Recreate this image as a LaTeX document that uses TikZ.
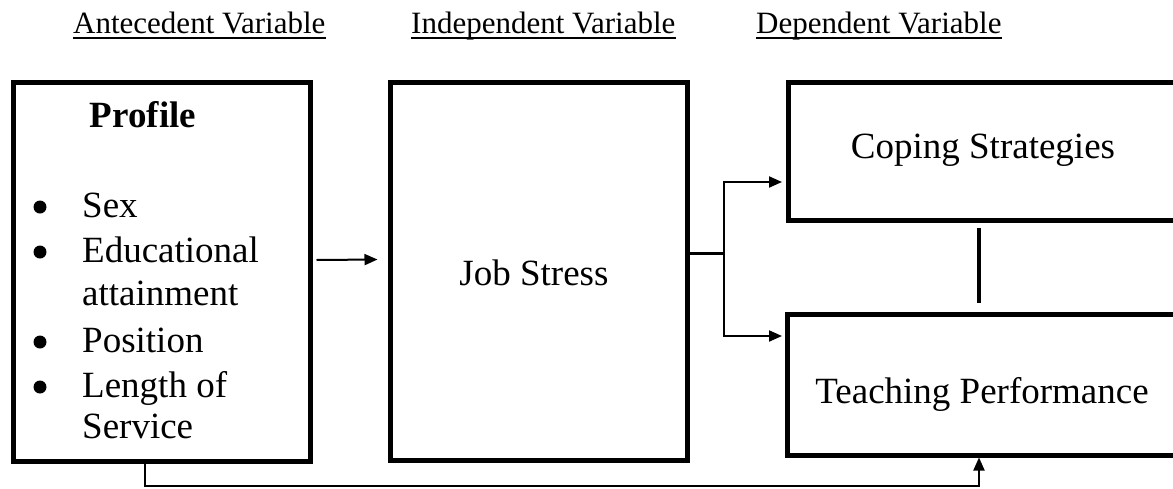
\documentclass[tikz,border=0pt]{standalone}
\usepackage{fontspec}
\setmainfont{Liberation Serif}
\usetikzlibrary{arrows.meta,calc}
\begin{document}
\begin{tikzpicture}[x=1pt,y=-1pt,
  box/.style={draw,line width=5pt,inner sep=0pt},
  body/.style={font=\fontsize{37}{44}\selectfont,inner sep=0pt,anchor=base},
  bodyl/.style={body,anchor=base west},
  bul/.style={circle,fill,inner sep=0pt,minimum size=13pt},
  head/.style={font=\fontsize{31}{36}\selectfont,inner sep=0pt,anchor=base west},
  uline/.style={line width=2pt},
  conn/.style={line width=2pt},
  arr/.style={conn,-{Triangle[length=13pt,width=11pt]}}]
\clip (0,0) rectangle (1173,488);
\useasboundingbox (0,0) rectangle (1173,488);

% headers
\node[head] (h1) at (73,33) {Antecedent Variable};
\node[head] (h2) at (411,33) {Independent Variable};
\node[head] (h3) at (756,33) {Dependent Variable};
\foreach \h in {h1,h2,h3}
  \draw[uline] ($(\h.base west)+(0,5)$) -- ($(\h.base east)+(0,5)$);

% boxes
\node[box,minimum width=297pt,minimum height=379pt] (profile) at (161.5,271.5) {};
\node[box,minimum width=297pt,minimum height=378pt] (job) at (538.5,271) {};
\node[box,minimum width=389pt,minimum height=138pt] (coping) at (982.5,151) {};
\node[box,minimum width=390pt,minimum height=141pt] (teaching) at (982,384.5) {};

% texts
\node[body,font=\fontsize{37}{44}\selectfont\bfseries] (ptitle) at (143,127) {Profile};
\node[bul] (b1) at (40,207) {};
\node[bodyl] (t1) at (82,217) {Sex};
\node[bul] (b2) at (40,252) {};
\node[bodyl] (t2) at (82,262) {Educational};
\node[bodyl] (t2b) at (82,305) {attainment};
\node[bul] (b3) at (40,342) {};
\node[bodyl] (t3) at (82,352) {Position};
\node[bul] (b4) at (40,387) {};
\node[bodyl] (t4) at (82,397) {Length of};
\node[bodyl] (t4b) at (82,438) {Service};

\node[body] (jtext) at (534,285) {Job Stress};
\node[body] (ctext) at (983,158) {Coping Strategies};
\node[body] (ttext) at (982,403) {Teaching Performance};

% connectors
\draw[arr] ($(profile.east)+(4,-11.5)$) -- ($(job.west)+(-10,-11.5)$);
\draw[conn,line width=3pt] ($(job.east)+(0,-18)$) -- ++(34,0) coordinate (fork);
\draw[arr] (fork) |- ($(coping.west)+(-3.5,31)$);
\draw[arr] (fork) |- ($(teaching.west)+(-2.5,-48.5)$);
\draw[line width=3.5pt] ($(coping.south)+(-3.5,5.5)$) -- ($(teaching.north)+(-3,-8.5)$);
\draw[arr] ($(profile.south)+(-16.5,0)$) -- ++(0,22) -| ($(teaching.south)+(-3,0)$);
\end{tikzpicture}
\end{document}
